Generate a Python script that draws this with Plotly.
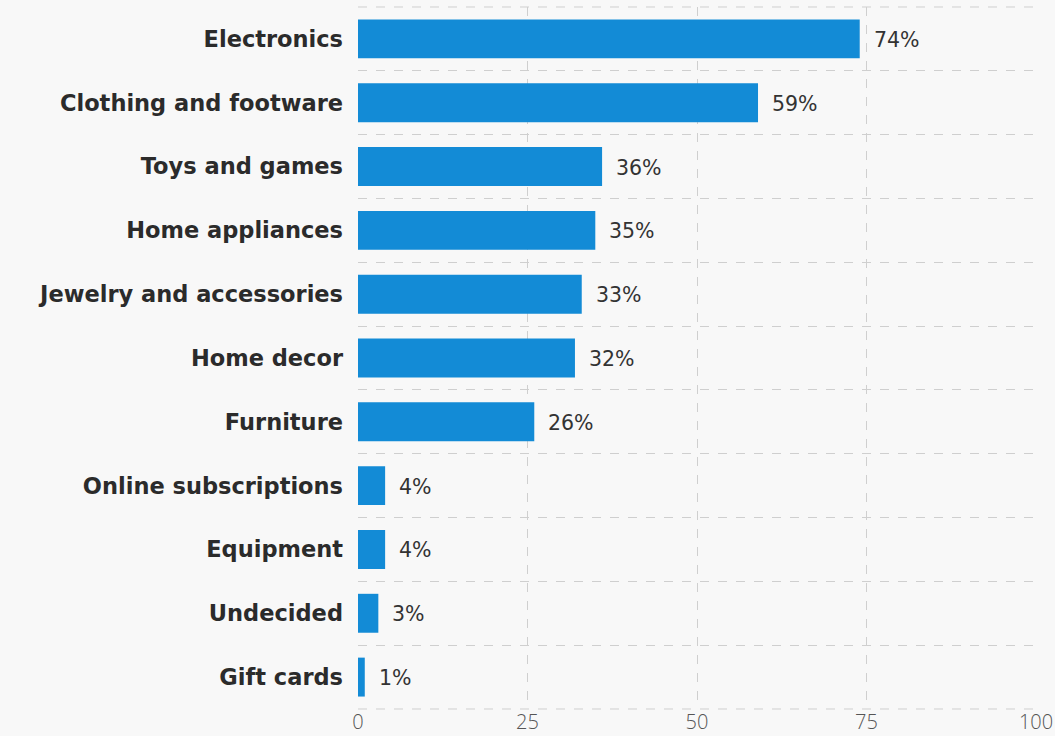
import plotly.graph_objects as go

categories = ["Electronics", "Clothing and footware", "Toys and games", "Home appliances",
              "Jewelry and accessories", "Home decor", "Furniture", "Online subscriptions",
              "Equipment", "Undecided", "Gift cards"]
values = [74, 59, 36, 35, 33, 32, 26, 4, 4, 3, 1]
x_ticks = [0, 25, 50, 75, 100]

fig = go.Figure()
fig.add_trace(go.Bar(
    x=values, y=categories, orientation="h",
    marker=dict(color="#138bd6", line=dict(width=0)),
    hoverinfo="skip",
))
for c, v in zip(categories, values):
    fig.add_annotation(x=v, y=c, text=f"{v}%", showarrow=False, xanchor="left",
                       xshift=12, yshift=-1,
                       font=dict(family="DejaVu Sans", size=20.5, color="#333333"))

grid = dict(type="line", xref="paper", yref="paper", x0=0, x1=1,
            line=dict(color="#cfcfcf", width=1, dash="dash"), layer="below")
fig.add_shape(y0=1, y1=1, **grid)
fig.add_shape(y0=0, y1=0, **grid)

fig.update_layout(
    width=1055, height=736,
    margin=dict(l=358, r=19, t=7, b=27, autoexpand=False),
    paper_bgcolor="#f8f8f8", plot_bgcolor="#f8f8f8",
    bargap=0.39, showlegend=False,
    xaxis=dict(range=[0, 100], tickvals=x_ticks, showgrid=True, griddash="dash",
               gridcolor="#cfcfcf", gridwidth=1, zeroline=False, showline=False,
               tickfont=dict(family="Open Sans", size=20, color="#555555", weight=300),
               ticks="", ticklabelstandoff=-1, automargin=False),
    yaxis=dict(autorange="reversed", type="category", tickson="boundaries",
               showgrid=True, griddash="dash", gridcolor="#cfcfcf", gridwidth=1,
               zeroline=False, showline=False, ticks="", ticklabelstandoff=14,
               automargin=False,
               tickfont=dict(family="DejaVu Sans", size=22.5, color="#2b2b2b", weight=700)),
)
fig.write_html("out.html")
